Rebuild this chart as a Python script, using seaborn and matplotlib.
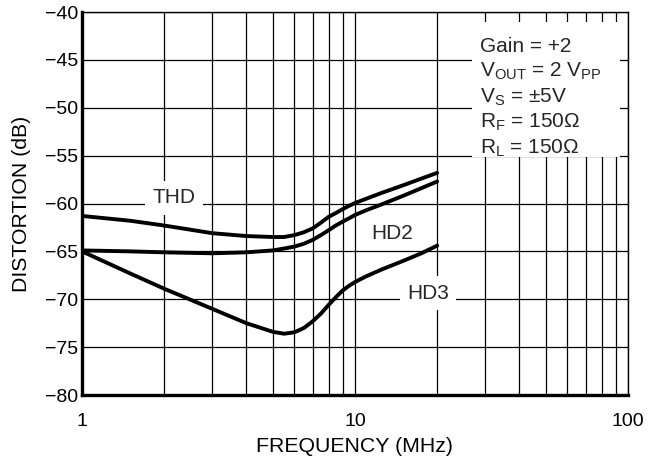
import numpy as np
import pandas as pd
import seaborn as sns
import matplotlib.pyplot as plt
from matplotlib.ticker import FixedLocator, FixedFormatter, NullFormatter, MultipleLocator
from matplotlib.patches import Rectangle

# Frequency points (MHz) and distortion readings (dB) for each harmonic
freq_mhz = [1, 1.5, 2, 3, 4, 5, 5.5, 6, 6.5, 7, 7.5, 8, 8.5, 9, 9.5, 10, 11, 12.5, 15, 17.5, 20]
thd_db = [-61.3, -61.8, -62.3, -63.1, -63.4, -63.5, -63.5, -63.3, -63.0, -62.6,
          -62.0, -61.4, -61.0, -60.6, -60.25, -59.95, -59.5, -58.9, -58.1, -57.4, -56.8]
hd2_db = [-64.9, -65.0, -65.1, -65.2, -65.1, -64.9, -64.7, -64.5, -64.2, -63.8,
          -63.3, -62.8, -62.3, -61.9, -61.55, -61.2, -60.7, -60.1, -59.2, -58.4, -57.7]
hd3_db = [-65.0, -67.3, -68.9, -71.0, -72.5, -73.4, -73.6, -73.45, -73.0, -72.3,
          -71.5, -70.6, -69.8, -69.1, -68.6, -68.2, -67.6, -66.9, -66.0, -65.2, -64.4]

series_names = ["THD", "HD2", "HD3"]
x_tick_values = [1, 10, 100]
x_tick_labels = ["1", "10", "100"]
conditions = [
    "Gain = +2",
    r"V$_\mathrm{OUT}$ = 2 V$_\mathrm{PP}$",
    r"V$_\mathrm{S}$ = ±5V",
    r"R$_\mathrm{F}$ = 150Ω",
    r"R$_\mathrm{L}$ = 150Ω",
]

df = pd.DataFrame({
    "freq": freq_mhz * 3,
    "dist": thd_db + hd2_db + hd3_db,
    "series": sum([[n] * len(freq_mhz) for n in series_names], []),
})

sns.set_theme(style="white")
plt.rcParams["font.family"] = ["Liberation Sans", "DejaVu Sans"]
plt.rcParams["mathtext.fontset"] = "custom"
plt.rcParams["mathtext.rm"] = "Liberation Sans"
plt.rcParams["mathtext.it"] = "Liberation Sans:italic"
plt.rcParams["mathtext.bf"] = "Liberation Sans:bold"

fig = plt.figure(figsize=(6.48, 4.65), dpi=100)
ax = fig.add_axes([82 / 648, 1 - 395 / 465, (628 - 82) / 648, (395 - 12) / 465])

sns.lineplot(data=df, x="freq", y="dist", hue="series", palette=["black"] * 3,
             linewidth=2.8, legend=False, ax=ax, zorder=4)
for ln in ax.get_lines():
    ln.set_solid_joinstyle("round")
    ln.set_solid_capstyle("round")

ax.set_xscale("log")
ax.set_xlim(1, 100)
ax.set_ylim(-80, -40)
ax.xaxis.set_major_locator(FixedLocator(x_tick_values))
ax.xaxis.set_major_formatter(FixedFormatter(x_tick_labels))
ax.xaxis.set_minor_locator(FixedLocator([m * d for d in (1, 10) for m in range(2, 10)]))
ax.xaxis.set_minor_formatter(NullFormatter())
ax.yaxis.set_major_locator(MultipleLocator(5))

ax.set_axisbelow(True)
ax.grid(which="both", axis="x", color="black", linewidth=0.9)
ax.grid(which="major", axis="y", color="black", linewidth=0.9)

ax.tick_params(axis="both", which="both", length=0, labelsize=14, colors="black")
ax.tick_params(axis="x", pad=13)
ax.tick_params(axis="y", pad=2.5)

for side in ("top", "right"):
    ax.spines[side].set_linewidth(1.0)
    ax.spines[side].set_color("black")
for side in ("left", "bottom"):
    ax.spines[side].set_linewidth(2.4)
    ax.spines[side].set_color("black")

ax.set_xlabel("FREQUENCY (MHz)", fontsize=15.3, labelpad=5, color="black")
ax.set_ylabel("DISTORTION (dB)", fontsize=15.3, labelpad=10, color="black")

# Curve labels on white patches that break the grid
label_box = dict(boxstyle="square,pad=0.35", facecolor="white", edgecolor="none")
ax.text(2.17, -59.4, "THD", fontsize=15, ha="center", va="center", bbox=label_box, zorder=3)
ax.text(13.7, -63.1, "HD2", fontsize=15, ha="center", va="center", bbox=label_box, zorder=3)
ax.text(18.5, -69.35, "HD3", fontsize=15, ha="center", va="center", bbox=label_box, zorder=3)

# Test-condition block in the upper right
def ay(px):
    return 1 - (px - 12) / 383

def axx(px):
    return (px - 82) / 546

ax.add_patch(Rectangle((axx(472), ay(157)), axx(620) - axx(472), ay(22) - ay(157),
                       transform=ax.transAxes, facecolor="white", edgecolor="none", zorder=2))
for i, line in enumerate(conditions):
    ax.text(axx(480), ay(51.7 + 25.4 * i), line, transform=ax.transAxes,
            fontsize=15, ha="left", va="baseline", zorder=3)

fig.savefig("out.png", dpi=100)
